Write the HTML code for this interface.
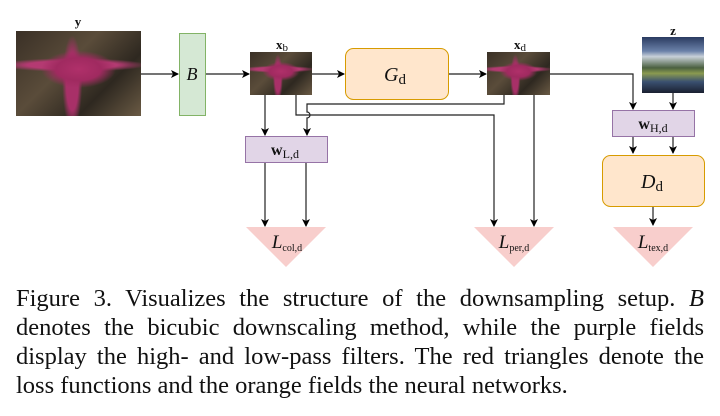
<!DOCTYPE html>
<html><head><meta charset="utf-8"><style>
body{margin:0;width:720px;height:416px;background:#fff;position:relative;overflow:hidden;font-family:"Liberation Serif",serif}
.a{position:absolute}
.star{background:radial-gradient(ellipse 30% 22% at 50% 45%,#b0306a 0,#a02a60 60%,transparent 100%),radial-gradient(ellipse 60% 8% at 45% 40%,#b43a72 60%,transparent 100%),radial-gradient(ellipse 8% 55% at 45% 60%,#a83068 60%,transparent 100%),linear-gradient(135deg,#3a3026,#5a4c3a 40%,#2e2820 70%,#6a5a44)}
.cap{position:absolute;left:16px;width:688px;font-size:24.5px;line-height:29px;color:#111;text-align:justify;text-align-last:justify;white-space:nowrap}
</style></head><body>
<svg class="a" style="left:0;top:0" width="720" height="280" viewBox="0 0 720 280">
<defs><marker id="ar" markerWidth="8" markerHeight="8" refX="7" refY="4" orient="auto" markerUnits="userSpaceOnUse"><path d="M0,0 L8,4 L0,8 L2,4z" fill="#000"/></marker></defs>
<g stroke="#222" stroke-width="1.2" fill="none" marker-end="url(#ar)">
<line x1="141" y1="74" x2="178" y2="74"/>
<line x1="205" y1="74" x2="249" y2="74"/>
<line x1="312" y1="74" x2="344" y2="74"/>
<line x1="448" y1="74" x2="486" y2="74"/>
<polyline points="550,74 633,74 633,109"/>
<line x1="673" y1="93" x2="673" y2="109"/>
<line x1="633" y1="136" x2="633" y2="153"/>
<line x1="673" y1="136" x2="673" y2="153"/>
<line x1="653" y1="206" x2="653" y2="225"/>
<line x1="265" y1="95" x2="265" y2="135"/>
<polyline points="296,95 296,115 494,115 494,226"/>
<path d="M504,95 L504,104 L307,104 L307,112 A3,3 0 0 1 307,118 L307,135"/>
<line x1="534" y1="95" x2="534" y2="226"/>
<line x1="265" y1="162" x2="265" y2="226"/>
<line x1="306" y1="162" x2="306" y2="226"/>
</g>
<rect x="179.5" y="33.5" width="26" height="82" fill="#d5e8d4" stroke="#82b366"/>
<rect x="345.5" y="48.5" width="103" height="51" rx="8" fill="#ffe6cc" stroke="#d79b00"/>
<rect x="602.5" y="155.5" width="102" height="51" rx="8" fill="#ffe6cc" stroke="#d79b00"/>
<rect x="245.5" y="136.5" width="82" height="26" fill="#e1d5e7" stroke="#9673a6"/>
<rect x="612.5" y="110.5" width="82" height="26" fill="#e1d5e7" stroke="#9673a6"/>
<polygon points="246,227 326,227 286,267" fill="#f8cecc"/>
<polygon points="474,227 554,227 514,267" fill="#f8cecc"/>
<polygon points="613,227 693,227 653,267" fill="#f8cecc"/>
<g font-family="Liberation Serif,serif" fill="#111">
<text x="78" y="26" font-size="13" font-weight="bold" text-anchor="middle">y</text>
<text x="282" y="49" font-size="13" font-weight="bold" text-anchor="middle">x<tspan font-weight="normal" font-size="11" dy="2">b</tspan></text>
<text x="520" y="49" font-size="13" font-weight="bold" text-anchor="middle">x<tspan font-weight="normal" font-size="11" dy="2">d</tspan></text>
<text x="673" y="35" font-size="13" font-weight="bold" text-anchor="middle">z</text>
<text x="192" y="80" font-size="18" font-style="italic" text-anchor="middle">B</text>
<text x="395" y="81" font-size="20" text-anchor="middle"><tspan font-style="italic">G</tspan><tspan font-size="15" dy="3">d</tspan></text>
<text x="652" y="188" font-size="20" text-anchor="middle"><tspan font-style="italic">D</tspan><tspan font-size="15" dy="3">d</tspan></text>
<text x="285" y="155" font-size="16" text-anchor="middle"><tspan font-weight="bold">w</tspan><tspan font-size="12" dy="3">L,d</tspan></text>
<text x="653" y="129" font-size="16" text-anchor="middle"><tspan font-weight="bold">w</tspan><tspan font-size="12" dy="3">H,d</tspan></text>
<text x="287" y="248" font-size="19" text-anchor="middle"><tspan font-style="italic">L</tspan><tspan font-size="10" dy="3">col,d</tspan></text>
<text x="514" y="248" font-size="19" text-anchor="middle"><tspan font-style="italic">L</tspan><tspan font-size="10" dy="3">per,d</tspan></text>
<text x="653" y="248" font-size="19" text-anchor="middle"><tspan font-style="italic">L</tspan><tspan font-size="10" dy="3">tex,d</tspan></text>
</g>
</svg>
<div class="a star" style="left:16px;top:31px;width:125px;height:85px"></div>
<div class="a star" style="left:250px;top:52px;width:62px;height:43px"></div>
<div class="a star" style="left:487px;top:52px;width:63px;height:43px"></div>
<div class="a" style="left:642px;top:37px;width:62px;height:56px;background:linear-gradient(180deg,#2a3a60 0,#6a80a8 25%,#c8d0d8 35%,#4a6040 55%,#8a9a50 65%,#3a5070 80%,#1a2030 100%)"></div>
<div class="cap" style="top:284px">Figure 3. Visualizes the structure of the downsampling setup. <i>B</i></div>
<div class="cap" style="top:313px">denotes the bicubic downscaling method, while the purple fields</div>
<div class="cap" style="top:342px">display the high- and low-pass filters. The red triangles denote the</div>
<div class="cap" style="top:371px;text-align-last:left">loss functions and the orange fields the neural networks.</div>
</body></html>
